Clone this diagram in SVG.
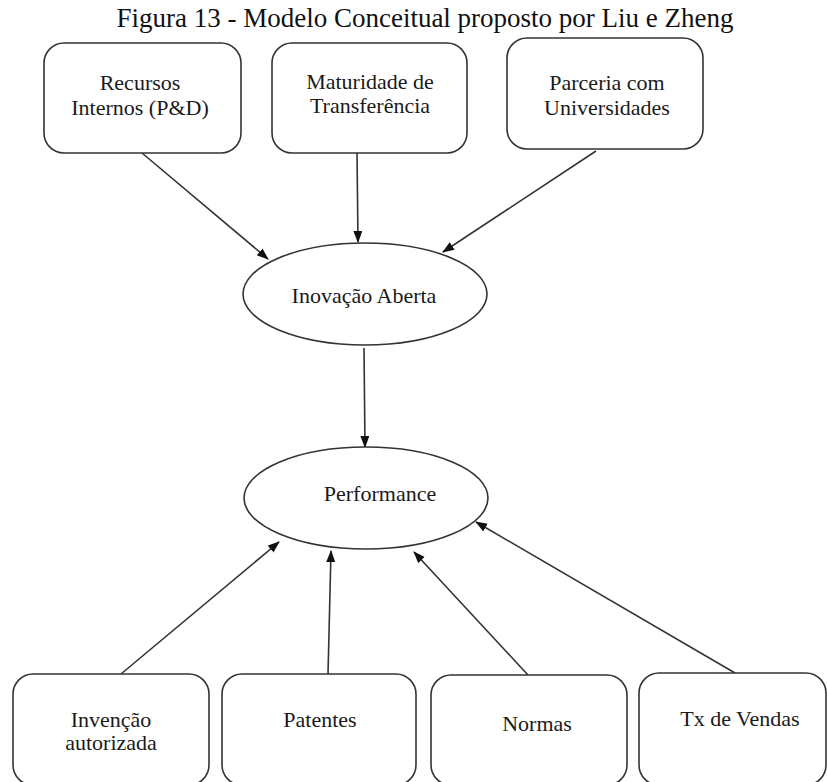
<svg xmlns="http://www.w3.org/2000/svg" width="827" height="782" viewBox="0 0 827 782">
  <style>
    .box { fill: #ffffff; stroke: #333333; stroke-width: 1.6; }
    .oval { fill: #ffffff; stroke: #333333; stroke-width: 1.6; }
    .lbl { font-family: "Liberation Serif", "Times New Roman", serif; font-size: 22px; fill: #1a1a1a; text-anchor: middle; }
    .title { font-family: "Liberation Serif", "Times New Roman", serif; font-size: 27px; fill: #111111; text-anchor: middle; }
    .edge { stroke: #333333; stroke-width: 1.6; fill: none; marker-end: url(#arrow); }
  </style>
  <defs>
    <marker id="arrow" markerUnits="userSpaceOnUse" markerWidth="12" markerHeight="10" refX="11" refY="4.5" orient="auto">
      <path d="M0,0 L12,4.5 L0,9 z" fill="#111111"/>
    </marker>
  </defs>
  <rect width="827" height="782" fill="#ffffff"/>

  <text class="title" x="425" y="27">Figura 13 - Modelo Conceitual proposto por Liu e Zheng</text>

  <g id="connectors">
    <line class="edge" x1="142" y1="153" x2="268" y2="259"/>
    <line class="edge" x1="357" y1="153" x2="358" y2="242"/>
    <line class="edge" x1="596" y1="151" x2="443" y2="252"/>
    <line class="edge" x1="364" y1="348" x2="365" y2="447"/>
    <line class="edge" x1="121" y1="674" x2="279" y2="542"/>
    <line class="edge" x1="328" y1="674" x2="331" y2="551"/>
    <line class="edge" x1="528" y1="675" x2="414" y2="552"/>
    <line class="edge" x1="735" y1="673" x2="476" y2="522"/>
  </g>

  <g id="recursos">
    <rect class="box" x="44" y="43" width="197" height="110" rx="20"/>
    <text class="lbl" x="140" y="90">Recursos</text>
    <text class="lbl" x="140" y="115">Internos (P&amp;D)</text>
  </g>
  <g id="maturidade">
    <rect class="box" x="272" y="43" width="195" height="110" rx="20"/>
    <text class="lbl" x="370" y="89">Maturidade de</text>
    <text class="lbl" x="370" y="113">Transferência</text>
  </g>
  <g id="parceria">
    <rect class="box" x="507" y="38" width="196" height="111" rx="20"/>
    <text class="lbl" x="607" y="90">Parceria com</text>
    <text class="lbl" x="607" y="115">Universidades</text>
  </g>

  <g id="inovacao">
    <ellipse class="oval" cx="365" cy="294" rx="122" ry="51"/>
    <text class="lbl" x="364" y="303">Inovação Aberta</text>
  </g>
  <g id="performance">
    <ellipse class="oval" cx="366" cy="498" rx="122" ry="51"/>
    <text class="lbl" x="380" y="501">Performance</text>
  </g>

  <g id="invencao">
    <rect class="box" x="13" y="674" width="196" height="111" rx="20"/>
    <text class="lbl" x="111" y="727">Invenção</text>
    <text class="lbl" x="111" y="750">autorizada</text>
  </g>
  <g id="patentes">
    <rect class="box" x="222" y="674" width="194" height="111" rx="20"/>
    <text class="lbl" x="320" y="727">Patentes</text>
  </g>
  <g id="normas">
    <rect class="box" x="431" y="675" width="196" height="110" rx="20"/>
    <text class="lbl" x="537" y="731">Normas</text>
  </g>
  <g id="vendas">
    <rect class="box" x="639" y="673" width="187" height="112" rx="20"/>
    <text class="lbl" x="740" y="726">Tx de Vendas</text>
  </g>
</svg>
